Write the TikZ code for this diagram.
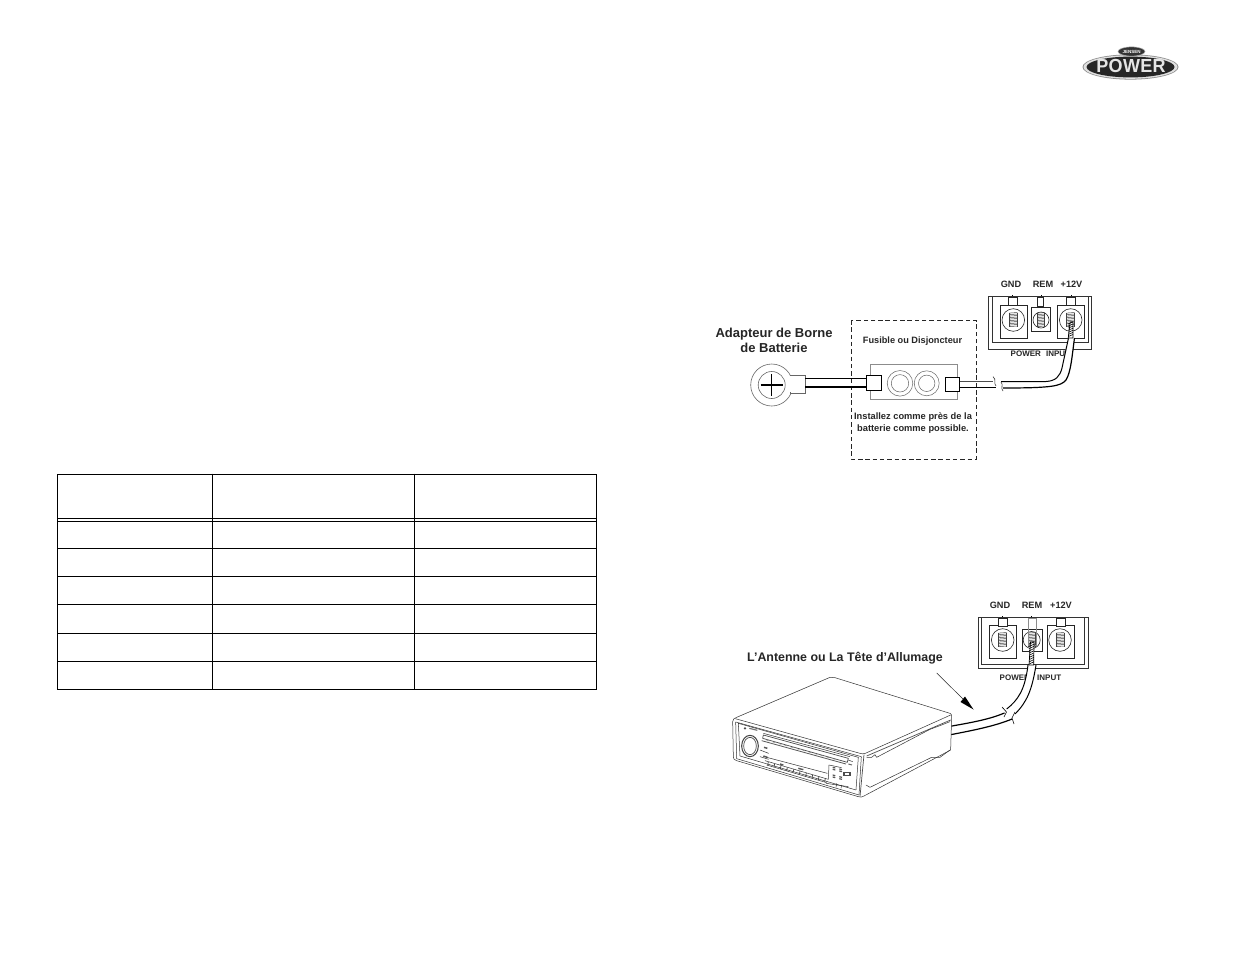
\documentclass[tikz,border=0pt]{standalone}
\usepackage{fontspec}
\setmainfont{Liberation Sans}
\usetikzlibrary{shapes.geometric}
\tikzset{
  lbl/.style={font=\bfseries\fontsize{9.2}{11}\selectfont,inner sep=0pt,align=center,text=black!85},
  biglbl/.style={font=\bfseries\fontsize{13}{15}\selectfont,inner sep=0pt,align=center,text=black!85},
  termlbl/.style={font=\bfseries\fontsize{9.2}{10}\selectfont,inner sep=0pt,text=black!85},
  pwrlbl/.style={font=\bfseries\fontsize{8}{9}\selectfont,inner sep=0pt,text=black!85},
  tablerule/.style={line width=0.85pt,black},
  thin1/.style={line width=0.6pt,black!85},
}
\newcommand{\myscrew}[4]{% x, y, half width, radius
  \draw[thin1,fill=white] (#1,#2) circle (#4);
  \foreach \k in {-5,...,4}{
    \draw[line width=0.5pt,black!75] (#1-#3,#2+\k*1.5+.6) -- (#1+#3,#2+\k*1.5);
  }
  \draw[line width=0.5pt,black!75] (#1-#3,#2-7.5) -- (#1-#3,#2+6.6) (#1+#3,#2-7.5) -- (#1+#3,#2+6.6);
}
\begin{document}
\begin{tikzpicture}[x=1pt,y=-1pt]
\useasboundingbox (0,0) rectangle (1235,954);
\fill[white] (0,0) rectangle (1235,954);

% ---------- table
\draw[tablerule] (57,474.5) rectangle (596,689.5);
\draw[tablerule] (212,473.5) -- (212,689.5) (414,473.5) -- (414,689.5);
\foreach \yy in {518,521.5,548,576,604.5,633,661}{
  \draw[tablerule] (57,\yy) -- (596,\yy);
}

% ---------- logo
\fill[black!45] (1130.5,67) ellipse (48 and 12.6);
\fill[black!12] (1130.5,67) ellipse (47 and 11.8);
\fill[black!85] (1130.5,67) ellipse (44 and 10.4);
\fill[black!80,draw=black!30,line width=0.5pt] (1131.5,51.5) ellipse (13.5 and 4.6);
\node[inner sep=0pt,text=white,font=\bfseries\fontsize{4.5}{5}\selectfont] (logosmall) at (1131.5,51.5) {JENSEN};
\node[inner sep=0pt,text=black!10,yscale=1.05,font=\bfseries\fontsize{18}{18}\selectfont] (logopower) at (1131,66.3) {\addfontfeature{LetterSpace=1.5}POWER};

% ---------- upper diagram
\node[biglbl] (adapter) at (774,340.5) {Adapteur de Borne\\de Batterie};
\draw[line width=0.9pt,black!85,dash pattern=on 4.5pt off 2.8pt] (851,320) rectangle (976,459);
\node[lbl] (fuse) at (912.5,341) {Fusible ou Disjoncteur};
\node[lbl,font=\bfseries\fontsize{9.3}{12}\selectfont] (install) at (913,423) {Installez comme près de la\\batterie comme possible.};

% ring terminal
\coordinate (ringc) at (771.7,385);
\draw[thin1,black!60,fill=white] (ringc) circle (21);
\draw[thin1,black!60,fill=white] (790,375.7) -- (805,375.7) -- (805,393) -- (790,393) -- cycle;
\fill[white] (787,376.4) rectangle (792,392.3);
\draw[thin1,black!60] (ringc) circle (13.5);
\draw[line width=1.1pt,black] (760.5,385) -- (783,385) (771.7,374) -- (771.7,396);
% fuse body
\draw[line width=0.6pt,black!45,fill=white] (870,364) rectangle (957,399);
\draw[line width=0.5pt,black!60] (900,383.3) circle (12.8) (900,383.3) circle (8.7);
\draw[line width=0.5pt,black!60] (926.7,383.3) circle (12.5) (926.7,383.3) circle (8.2);
% left wire
\node[draw,line width=0.9pt,black,fill=white,minimum width=15pt,minimum height=14.4pt,inner sep=0pt] (fusel) at (873.5,382.8) {};
\node[draw,line width=0.9pt,black,fill=white,minimum width=14.4pt,minimum height=14pt,inner sep=0pt] (fuser) at (952.2,384.7) {};
\draw[line width=1.4pt,black] (805,378.6) -- (fusel.west |- 0,378.6) (805,386.8) -- (fusel.west |- 0,386.8);
% right wire
\draw[line width=0.6pt,black!70] (fuser.east |- 0,381.3) -- (993,381.3);
\draw[line width=1pt,black] (fuser.east |- 0,387) -- (996,387);
\draw[line width=0.6pt,black!80] (993,376.6) .. controls (997,380) and (993,383) .. (996,386) (1001,382) .. controls (1004,385) and (1000,388) .. (1003,391);
% terminal block top
\draw[line width=0.8pt,black!80] (988.3,296) rectangle (1091.7,349.3);
\draw[line width=0.6pt,black!80] (992.7,296) rectangle (1088.3,342.7);
\node[termlbl] (gnd1) at (1011,284) {GND};
\node[termlbl] (rem1) at (1043,284) {REM};
\node[termlbl] (v1) at (1071.5,284) {+12V};
\node[pwrlbl,anchor=west] (pwr1) at (1010.5,353.5) {POWER\hspace{3pt} INPUT};
\foreach \xx/\ww in {1013/4.7,1070.7/4.7,1040.5/2.8}{
  \draw[thin1,fill=white] (\xx-\ww,296.8) rectangle (\xx+\ww,306);
}
\draw[thin1,fill=white] (1000.7,305) rectangle (1027.3,338);
\draw[thin1,fill=white] (1031.7,307.3) rectangle (1050.7,331.7);
\draw[thin1,fill=white] (1057.3,305) rectangle (1084,338);
\myscrew{1013.3}{320}{4}{11.3}
\myscrew{1041}{320}{3.6}{8}
\myscrew{1070.7}{320}{4}{11.3}
\draw[line width=.5pt,black] (1012,296) -- (1012,294.5) (1041,296) -- (1041,294.5) (1071,296) -- (1071,294.5);
% top wire going into +12V
\fill[white] (1068,338) -- (1074.5,338) .. controls (1072,356) and (1071,372) .. (1066,380) .. controls (1061,386) and (1053,388) .. (1003,388) -- (1003,381.5) -- (1046,381.5) .. controls (1056,381) and (1060,376) .. (1062,368) -- cycle;
\draw[line width=1pt,black] (1068.5,338) -- (1062,368) .. controls (1060,376) and (1056,381) .. (1046,381.5) -- (1001,381.5);
\draw[line width=1.2pt,black] (1074.5,338) .. controls (1072,356) and (1071,372) .. (1066,380) .. controls (1061,386) and (1053,388) .. (1003,388);
\draw[line width=0.7pt,black,fill=white] (1068.2,338) -- (1070.2,322) -- (1073,322) -- (1073,338) -- cycle;
\foreach \k in {0,...,6}{\draw[line width=.6pt,black] (1068.3,336.5-\k*2.1) -- (1073,334.5-\k*2.1);}

% ---------- lower diagram
\node[biglbl,font=\bfseries\fontsize{12.4}{15}\selectfont] (antenna) at (845,658) {L’Antenne ou La Tête d’Allumage};
\draw[line width=0.8pt,black!80] (978.3,617.3) rectangle (1088.3,668.3);
\draw[line width=0.6pt,black!80] (981.7,617.3) rectangle (1084,664);
\node[termlbl] (gnd2) at (1000,605) {GND};
\node[termlbl] (rem2) at (1032,605) {REM};
\node[termlbl] (v2) at (1061,605) {+12V};
\node[pwrlbl,anchor=west] (pwr2) at (999.5,677.5) {POWER};
\node[pwrlbl,anchor=west] (inp2) at (1037,677.5) {INPUT};
\draw[thin1,fill=white] (989.3,625) rectangle (1016,658.3);
\draw[thin1,fill=white] (1022.3,629.3) rectangle (1042.3,651);
\draw[thin1,fill=white] (1047.3,625) rectangle (1074,658.3);
\foreach \xx/\ww in {1002.7/4.7,1060.5/4.7}{
  \draw[thin1,fill=white] (\xx-\ww,618.3) rectangle (\xx+\ww,626);
}
\myscrew{1002.7}{640}{4}{11.3}
\myscrew{1031.7}{640}{3.6}{8.5}
\myscrew{1060}{640}{4}{11.3}
\draw[line width=0.5pt,black!45] (1028.3,618.3) rectangle (1036,645);
\draw[line width=.5pt,black] (1002,617.3) -- (1002,615.8) (1031,617.3) -- (1031,615.8);
% wire lower
\fill[white] (1028,665) -- (1036,665) .. controls (1032,690) and (1027,702) .. (1015,714) -- (1006.7,709) .. controls (1018,700) and (1025,690) .. cycle;
\draw[line width=1pt,black] (1028,665) .. controls (1025,690) and (1018,700) .. (1006.7,709);
\draw[line width=1pt,black] (1036,665) .. controls (1032,690) and (1027,702) .. (1015,714);
\draw[line width=0.6pt,black] (1002,707) -- (1006.5,712) -- (1004,717) (1015,712) -- (1012,718) -- (1014,724);
\draw[line width=0.7pt,black,fill=white] (1029,665) -- (1030.5,642) -- (1034,642) -- (1033.7,665) -- cycle;
\foreach \k in {0,...,9}{\draw[line width=.6pt,black] (1029.2,664-\k*2.2) -- (1033.8,661.8-\k*2.2);}
\draw[line width=1.2pt,black] (1004.5,713) .. controls (990,719) and (975,722) .. (949,726.5);
\draw[line width=1.2pt,black] (1012,719) .. controls (995,726) and (975,730) .. (949,735);
% pointer arrow
\coordinate (ptrs) at (936.7,673);
\coordinate (ptre) at (973.5,709.5);
\draw[line width=0.5pt,black!85] (ptrs) -- (965,701);
\fill[black] (ptre) -- (965,696.5) -- (960.5,702) -- cycle;

% ---------- head unit
\begin{scope}[shift={(720,670)},x=0.3333pt,y=-0.3333pt,line join=round]
  \tikzset{hu/.style={line width=0.5pt,black!80}, hud/.style={line width=0.7pt,black!70}}
  \draw[hu,fill=white] (50,142) -- (330,22) .. controls (335,21) and (340,21) .. (345,23) -- (690,130) .. controls (695,133) and (695,135) .. (695,140) -- (692,240) -- (432,378) .. controls (425,382) and (422,382) .. (415,380) -- (50,272) .. controls (42,270) and (40,266) .. (40,260) -- (38,155) .. controls (38,148) and (42,145) .. (50,142) -- cycle;
  \draw[hu] (46,146) -- (420,250) .. controls (425,252) and (430,252) .. (436,250) -- (692,135);
  \draw[hud] (432,254) -- (420,380);
  \draw[hud] (440,258) -- (692,150);
  \draw[hu] (440,262) -- (455,262) -- (465,254) -- (470,262) -- (630,178) -- (665,165) -- (690,155);
  \draw[hu] (438,345) -- (450,352) -- (635,262) -- (660,262) -- (690,240);
  % front panel
  \draw[hu] (55,160) -- (415,262) -- (408,360) -- (60,258) -- cycle;
  \draw[hu] (47,156) -- (424,260) -- (417,375) -- (50,266) -- cycle;
  % slot
  \draw[hud] (130,195) -- (385,265) -- (382,277) -- (128,205) -- cycle;
  \draw[hu] (130,190) -- (390,260);
  \draw[line width=0.8pt,black!65] (125,212) -- (378,282);
  \foreach \k in {0,...,11}{
    \draw[line width=.4pt,black!55] (140+\k*18,211+\k*5) -- (148+\k*18,213+\k*5);
  }
  % logo and knob
  \fill[black!70] (75,175) circle (4);
  \draw[line width=1.2pt,black!55] (88,175) -- (112,181);
  \draw[line width=1pt,black!75,fill=white] (90,228) ellipse (25 and 32);
  \draw[hud] (90,228) ellipse (19 and 26);
  \draw[hu] (120,240) -- (146,250) (120,260) -- (146,268);
  \draw[line width=1.5pt,black!65] (132,232) -- (142,235) (130,258) -- (142,262);
  % display / buttons
  \draw[hu] (140,262) -- (322,310);
  \draw[hu] (135,272) -- (325,328) -- (327,285) -- (365,293);
  \foreach \k in {0,...,9}{
    \draw[line width=.7pt,black!75] (145+\k*19,276+\k*5.5) -- (143+\k*19,286+\k*5.5);
  }
  \draw[line width=1.4pt,black!65] (180,282) -- (190,285) (235,295) -- (250,299);
  \draw[hu] (140,285) -- (320,338) (318,340) -- (385,350) (350,340) -- (348,352) (365,345) -- (363,355);
  \foreach \xx/\yy in {338/292,358/297,338/315,358/320}{
    \draw[line width=1.2pt,black!65] (\xx,\yy) -- (\xx+8,\yy+2) (\xx,\yy+6) -- (\xx+8,\yy+8);
  }
  \fill[black!70] (370,305) rectangle (392,318);
  \fill[white] (376,308) rectangle (386,314);
  \draw[hu] (385,270) -- (398,275);
  \draw[line width=1pt,black!60] (385,282) -- (396,285);
\end{scope}
\end{tikzpicture}
\end{document}
